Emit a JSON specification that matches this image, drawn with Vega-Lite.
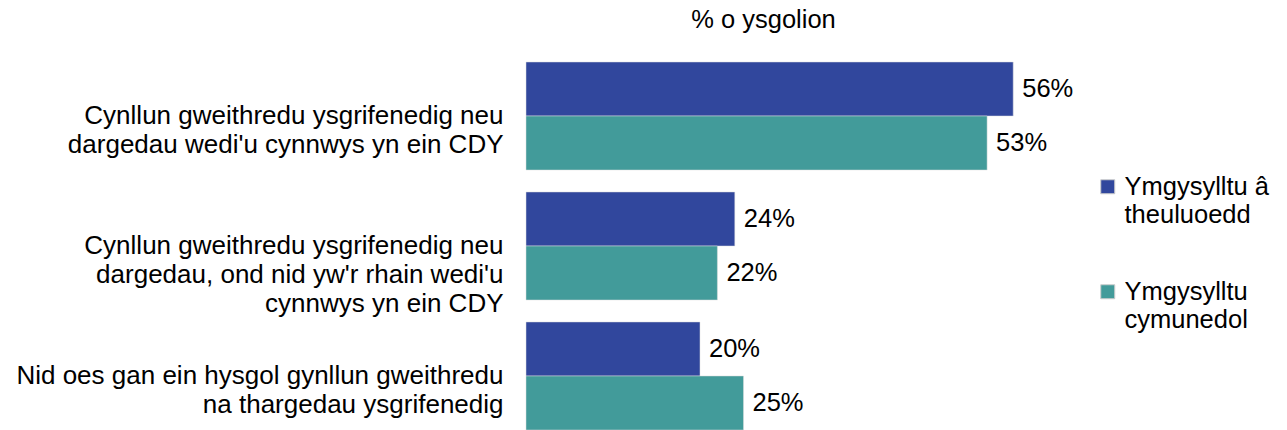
{
  "$schema": "https://vega.github.io/schema/vega-lite/v6.json",
  "autosize": {"type": "none"},
  "padding": {"left": 526, "top": 62, "right": 239, "bottom": 0},
  "width": 522,
  "height": 368,
  "config": {"font": "Liberation Sans", "view": {"stroke": null}},
  "data": {
    "values": [
      {"cat": "Cynllun gweithredu ysgrifenedig neu|dargedau wedi'u cynnwys yn ein CDY", "series": "Ymgysylltu â|theuluoedd", "value": 0.56},
      {"cat": "Cynllun gweithredu ysgrifenedig neu|dargedau wedi'u cynnwys yn ein CDY", "series": "Ymgysylltu|cymunedol", "value": 0.53},
      {"cat": "Cynllun gweithredu ysgrifenedig neu|dargedau, ond nid yw'r rhain wedi'u|cynnwys yn ein CDY", "series": "Ymgysylltu â|theuluoedd", "value": 0.24},
      {"cat": "Cynllun gweithredu ysgrifenedig neu|dargedau, ond nid yw'r rhain wedi'u|cynnwys yn ein CDY", "series": "Ymgysylltu|cymunedol", "value": 0.22},
      {"cat": "Nid oes gan ein hysgol gynllun gweithredu|na thargedau ysgrifenedig", "series": "Ymgysylltu â|theuluoedd", "value": 0.20},
      {"cat": "Nid oes gan ein hysgol gynllun gweithredu|na thargedau ysgrifenedig", "series": "Ymgysylltu|cymunedol", "value": 0.25}
    ]
  },
  "encoding": {
    "y": {
      "field": "cat", "type": "nominal", "sort": null,
      "scale": {"paddingInner": 0.169, "paddingOuter": 0},
      "axis": {"title": null, "domain": false, "ticks": false, "labelPadding": 23, "labelExpr": "split(datum.label, '|')", "labelFontSize": 26, "labelLineHeight": 29, "labelColor": "black", "labelLimit": 0}
    },
    "yOffset": {"field": "series", "type": "nominal", "sort": null},
    "x": {
      "field": "value", "type": "quantitative", "scale": {"domain": [0, 0.6]},
      "axis": {"orient": "top", "labels": false, "ticks": false, "domain": false, "grid": false, "title": "% o ysgolion", "titleFontSize": 25.5, "titleFontWeight": "normal", "titleColor": "black", "titleX": 237, "titleY": -43, "titleAlign": "center", "titleBaseline": "middle"}
    }
  },
  "layer": [
    {
      "mark": {"type": "bar", "stroke": "#dddddd", "strokeWidth": 0.5},
      "encoding": {
        "color": {
          "field": "series", "type": "nominal", "sort": null,
          "scale": {"range": ["#31479d", "#429b9a"]},
          "legend": {"orient": "none", "legendX": 569, "legendY": 112, "title": null, "symbolType": "square", "symbolSize": 196, "symbolStrokeColor": "#cccccc", "symbolStrokeWidth": 1, "labelFontSize": 25.5, "labelExpr": "split(datum.label, '|')", "rowPadding": 50, "labelLimit": 0, "labelOffset": 4, "padding": 0, "labelColor": "black",
            "encode": {"labels": {"update": {"lineHeight": {"value": 28}}}}}
        }
      }
    },
    {
      "mark": {"type": "text", "align": "left", "dx": 9, "fontSize": 25.5, "color": "black"},
      "encoding": {"text": {"field": "value", "type": "quantitative", "format": ".0%"}}
    }
  ]
}
